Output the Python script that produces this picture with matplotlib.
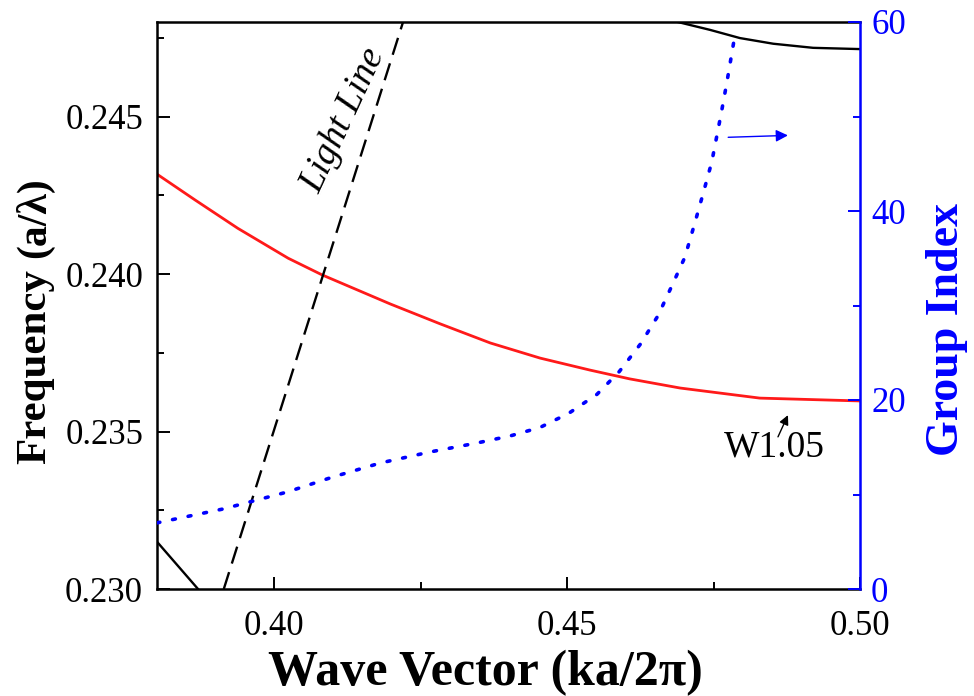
import numpy as np
import matplotlib

matplotlib.use("Agg")
import matplotlib.pyplot as plt

plt.rcParams["font.family"] = ["Liberation Serif", "DejaVu Serif"]
plt.rcParams["mathtext.fontset"] = "stix"

BLUE = "#0000ff"
RED = "#ff1a1a"

# W1.05 guided mode (frequency, a/lambda)
k_mode = [0.380, 0.3865, 0.3938, 0.4024, 0.4082, 0.4198, 0.4283, 0.4369,
          0.4454, 0.4539, 0.4607, 0.4693, 0.4829, 0.500]
f_mode = [0.24317, 0.24235, 0.24145, 0.24050, 0.23997, 0.23905, 0.23842,
          0.23781, 0.23733, 0.23695, 0.23667, 0.23638, 0.23606, 0.23597]

# group index of the mode (right axis)
k_ng = [0.380, 0.3913, 0.4022, 0.4100, 0.4181, 0.4266, 0.4346, 0.4403,
        0.4454, 0.4503, 0.4551, 0.4589, 0.4625, 0.4655, 0.4679, 0.4701,
        0.4717, 0.4732, 0.4747, 0.4763, 0.4773, 0.4787]
ng = [7.0, 8.47, 10.26, 11.85, 13.33, 14.5, 15.45, 16.2, 17.1, 18.6, 20.6,
      23.0, 25.9, 28.9, 32.1, 35.1, 38.5, 41.8, 45.2, 50.3, 53.7, 58.8]

# light line
k_light = [0.3914, 0.4220]
f_light = [0.2300, 0.2480]

# neighbouring bands (black)
k_low = [0.380, 0.3870]
f_low = [0.23150, 0.2300]
k_high = [0.4660, 0.4689, 0.4744, 0.4795, 0.4852, 0.4920, 0.500]
f_high = [0.24812, 0.2480, 0.24775, 0.24749, 0.24731, 0.24718, 0.24714]

fig = plt.figure(figsize=(9.74, 6.96), dpi=100)
fig.subplots_adjust(left=157 / 974, right=860 / 974,
                    bottom=1 - 589 / 696, top=1 - 22 / 696)
ax = fig.add_subplot(111)
ax2 = ax.twinx()

ax.plot(k_mode, f_mode, color=RED, lw=2.0)
ax.plot(k_light, f_light, color="black", lw=1.7, dashes=(7.5, 3.8))
ax.plot(k_low, f_low, color="black", lw=1.7)
ax.plot(k_high, f_high, color="black", lw=1.7)
ax2.plot(k_ng, ng, color=BLUE, lw=2.6, dashes=(0.8, 3.6), dash_capstyle="round")

ax.set_xlim(0.38, 0.50)
ax.set_ylim(0.230, 0.248)
ax2.set_ylim(0, 60)

ax.set_xticks([0.40, 0.45, 0.50])
ax.set_xticklabels(["0.40", "0.45", "0.50"])
ax.set_xticks([0.425, 0.475], minor=True)
ax.set_yticks([0.230, 0.235, 0.240, 0.245])
ax.set_yticklabels(["0.230", "0.235", "0.240", "0.245"])
ax.set_yticks([0.2325, 0.2375, 0.2425, 0.2475], minor=True)
ax2.set_yticks([0, 20, 40, 60])
ax2.set_yticks([10, 30, 50], minor=True)

ax.tick_params(which="both", direction="in", top=False, right=False,
               width=1.4, labelsize=25)
ax.tick_params(which="major", length=9)
ax.tick_params(which="minor", length=5)
ax.tick_params(axis="x", pad=15)
ax.tick_params(axis="y", pad=10)
ax2.tick_params(which="both", direction="in", colors=BLUE, width=1.4,
                labelsize=25, pad=8)
ax2.tick_params(which="major", length=9)
ax2.tick_params(which="minor", length=5)

for s in ("left", "bottom", "top"):
    ax.spines[s].set_linewidth(1.8)
ax.spines["right"].set_visible(False)
for s in ("left", "bottom", "top"):
    ax2.spines[s].set_visible(False)
ax2.spines["right"].set_color(BLUE)
ax2.spines["right"].set_linewidth(1.8)

# axis titles placed where the reference has them
fig.text(485 / 974, 1 - 673 / 696, "Wave Vector (ka/2π)", fontsize=36,
         fontweight="bold", ha="center", va="center")
fig.text(947 / 974, 1 - 330 / 696, "Group Index", rotation=90, fontsize=33,
         fontweight="bold", color=BLUE, ha="center", va="center")
fig.text(35 / 974, 1 - 367 / 696, "Frequency", rotation=90, fontsize=31,
         fontweight="bold", ha="center", va="center")
fig.text(35 / 974, 1 - 218 / 696, "(a/λ)", rotation=90, fontsize=30,
         fontweight="bold", ha="center", va="center")

ax.text(0.4118, 0.24489, "Light Line", rotation=65, fontsize=27,
        style="italic", ha="center", va="center")
ax.text(0.4853, 0.23451, "W1.05", fontsize=27, ha="center", va="center")
ax.annotate("", xy=(0.4877, 0.23552), xytext=(0.4860, 0.23483),
            arrowprops=dict(arrowstyle="-|>", color="black", lw=1.0,
                            mutation_scale=14, shrinkA=0, shrinkB=0))
ax2.annotate("", xy=(0.4877, 48.0), xytext=(0.4775, 47.8),
             arrowprops=dict(arrowstyle="-|>", color=BLUE, lw=1.0,
                             mutation_scale=18, shrinkA=0, shrinkB=0))

fig.savefig("out.png", dpi=100)
